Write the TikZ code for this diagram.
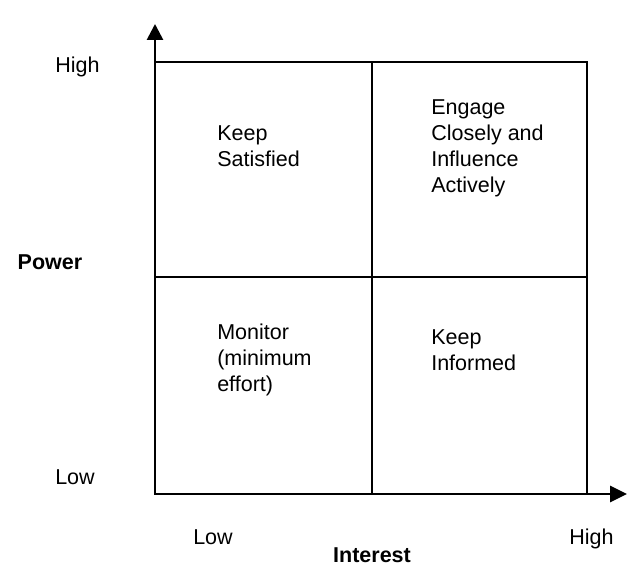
\documentclass[tikz,border=0pt]{standalone}
\usepackage{fontspec}
\setmainfont{Liberation Sans}
\usetikzlibrary{arrows.meta, positioning}

\begin{document}
\begin{tikzpicture}[
        txt/.style={anchor=base west, inner sep=0,
            font=\fontsize{15.3}{18.5}\selectfont},
        quad/.style={txt, align=left},
        axis/.style={line width=1.9pt,
            {Triangle[length=0.4cm, width=0.4cm]}-{Triangle[length=0.42cm, width=0.4cm]}}
    ]
        \useasboundingbox (-3.875, -1.95) rectangle (11.975, 12.35);
        \coordinate (O) at (0, 0);
        \coordinate (ytip) at (0, 11.75);
        \coordinate (xtip) at (11.8, 0);
        \coordinate (tl) at (0, 10.8);
        \coordinate (tr) at (10.8, 10.8);
        \coordinate (br) at (10.8, 0);
        % grid
        \draw[line width=1.2pt] (tl) -- (tr) -- (br);
        \draw[line width=1pt] (5.425, 0) -- (5.425, 10.8);
        \draw[line width=1pt] (0, 5.425) -- (10.8, 5.425);
        % axes
        \draw[axis] (ytip) -- (O) -- (xtip);
        % axis labels
        \node[txt] (high) at (-2.5, 10.53) {High};
        \node[txt, font=\fontsize{15.3}{18.5}\selectfont\bfseries] (power)
            at (-3.44, 5.62) {Power};
        \node[txt] (low) at (-2.5, 0.225) {Low};
        \node[txt] (lowx) at (0.95, -1.275) {Low};
        \node[txt] (highx) at (10.35, -1.275) {High};
        \node[txt, anchor=base, font=\fontsize{15.3}{18.5}\selectfont\bfseries]
            (interest) at (5.425, -1.725) {Interest};
        % quadrants (base = last line)
        \node[quad] (satisfied) at (1.55, 8.175) {Keep\\Satisfied};
        \node[quad] (engage) at (6.9, 7.54)
            {Engage\\Closely and\\Influence\\Actively};
        \node[quad] (monitor) at (1.55, 2.55) {Monitor\\(minimum\\effort)};
        \node[quad] (informed) at (6.9, 3.075) {Keep\\Informed};
\end{tikzpicture}
\end{document}
